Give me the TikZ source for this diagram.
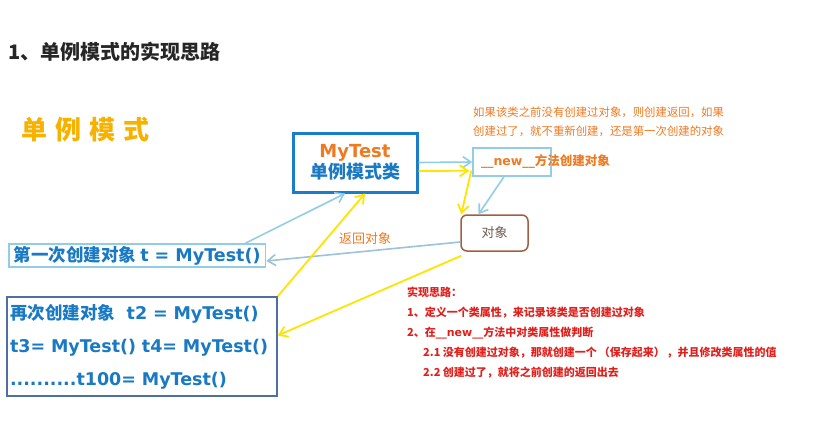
\documentclass[tikz,border=0pt]{standalone}
\usepackage{fontspec}
\setmainfont{Noto Sans CJK SC}
\newfontfamily\latn{DejaVu Sans}
\usetikzlibrary{positioning,arrows.meta}
\definecolor{TitleGray}{HTML}{262626}
\definecolor{ModeGold}{HTML}{F7B200}
\definecolor{ClsBlue}{HTML}{1B7DC9}
\definecolor{TextBlue}{HTML}{1979C3}
\definecolor{NoteOrange}{HTML}{EE7A22}
\definecolor{LineBlue}{HTML}{92CDE6}
\definecolor{BackBlue}{HTML}{9CC3D6}
\definecolor{ArrowYellow}{HTML}{FFE400}
\definecolor{ObjBrown}{HTML}{A0603F}
\definecolor{ObjText}{HTML}{6E5A50}
\definecolor{AgainBlue}{HTML}{4F6FA3}
\definecolor{NoteRed}{HTML}{E0201C}

\begin{document}
\begin{tikzpicture}[
      x=1pt, y=-1pt,
      clsbox/.style={
        draw=ClsBlue, line width=3pt, align=center, text=TextBlue,
        minimum width=124pt, minimum height=59pt, inner sep=0pt,
        font=\fontsize{18}{21}\selectfont\bfseries
      },
      thinbox/.style={draw=LineBlue, line width=1.5pt},
      objbox/.style={
        draw=ObjBrown, line width=1.5pt, rounded corners=6pt, text=ObjText,
        minimum width=67pt, minimum height=36pt, font=\fontsize{13}{15}\selectfont
      },
      callbox/.style={
        text=TextBlue, inner ysep=2pt, inner xsep=4pt,
        font=\fontsize{17.5}{33}\selectfont\bfseries
      },
      barr/.style={-{Straight Barb[length=8pt,width=11pt]}, line width=1.6pt, color=LineBlue},
      yarr/.style={-{Straight Barb[length=8pt,width=11pt]}, line width=1.8pt, color=ArrowYellow}
    ]
      \fill[white] (0,0) rectangle (829,441);
      \useasboundingbox (0,0) rectangle (829,441);
      \node[anchor=west, text=TitleGray, font=\fontsize{20}{24}\selectfont\bfseries] (title) at (5,52) {1、单例模式的实现思路};
      \node[anchor=west, text=ModeGold, font=\fontsize{26}{30}\selectfont\bfseries] (mode) at (18,130) {单\hspace{8pt}例\hspace{8pt}模\hspace{8pt}式};
      \node[clsbox] (mytest) at (355,162.5) {{\color{NoteOrange}\latn\bfseries\raisebox{3pt}{MyTest}}\\\raisebox{3pt}{单例模式类}};
      \node[thinbox, minimum width=78pt, minimum height=28pt, inner xsep=8pt, inner ysep=0pt,
            text=NoteOrange, font=\fontsize{12.5}{14}\selectfont\bfseries] (newbox) at (512,162)
        {\makebox[62pt][l]{{\latn\bfseries\_\_new\_\_}方法创建对象}};
      \node[anchor=north west, align=left, inner sep=0pt, text=NoteOrange,
            font=\fontsize{11.4}{19}\selectfont] (hint) at (473,107)
        {如果该类之前没有创建过对象，则创建返回，如果\\创建过了，就不重新创建，还是第一次创建的对象};
      \node[objbox] (obj) at (494.5,233) {对象};
      \node[callbox, thinbox, anchor=west, inner xsep=5pt] (first) at (8,255.5) {第一次创建对象 {\latn\bfseries t = MyTest()}};
      \node[callbox, draw=AgainBlue, line width=1.5pt, text width=264pt, minimum height=99pt,
            inner xsep=3pt, align=left] (again) at (142,346.5)
        {再次创建对象{\latn\bfseries\ \ t2 = MyTest()}\\{\latn\bfseries t3= MyTest()\ t4= MyTest()}\\{\latn\bfseries..........t100= MyTest()}};
      \node[anchor=north west, align=left, inner sep=0pt, text=NoteRed,
            font=\fontsize{11}{20}\selectfont\bfseries] (idea) at (407,287)
        {实现思路：\\1、定义一个类属性，来记录该类是否创建过对象\\2、在{\latn\bfseries\_\_new\_\_}方法中对类属性做判断\\
         \hspace*{16pt}2.1 没有创建过对象，那就创建一个\,（保存起来）\,，并且修改类属性的值\\
         \hspace*{16pt}2.2 创建过了，就将之前创建的返回出去};
      \draw[barr] ([xshift=-21pt]first.north east) -- ([xshift=-10pt]mytest.south);
      \draw[barr] (mytest.east) -- (newbox.west);
      \draw[barr] ([xshift=-8pt]newbox.south) -- ([xshift=-16pt]obj.north);
      \draw[barr, color=BackBlue] ([yshift=-9pt]obj.west) -- node[pos=0.49, above=3pt, text=NoteOrange,
            font=\fontsize{13}{15}\selectfont] (back) {返回对象} ([yshift=-5.5pt]first.east);
      \draw[yarr] ([yshift=-8.5pt]mytest.east) -- ([xshift=-3pt,yshift=6pt]newbox.south west);
      \draw[yarr] ([xshift=-1pt,yshift=6pt]newbox.south west) -- ([xshift=1pt]obj.north west);
      \draw[yarr] (again.north east) -- ([xshift=10pt]mytest.south);
      \draw[yarr] ([xshift=1pt,yshift=-4pt]obj.south west) -- ([yshift=11pt]again.east);
    \end{tikzpicture}
\end{document}
